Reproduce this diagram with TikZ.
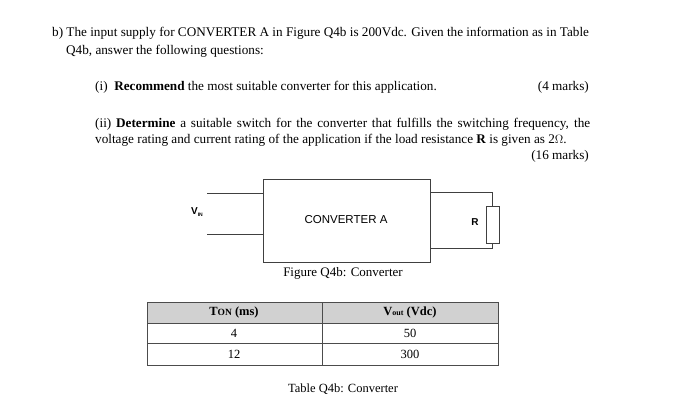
\documentclass[tikz,border=0pt]{standalone}
\usepackage{fontspec}
\setmainfont{Liberation Serif}
\setsansfont{Liberation Sans}
\begin{document}
\begin{tikzpicture}[x=1pt,y=-1pt,
  txt/.style={anchor=west,inner sep=0pt,font=\fontsize{13.2}{15}\selectfont},
  rtxt/.style={anchor=east,inner sep=0pt,font=\fontsize{13.2}{15}\selectfont},
  cell/.style={inner sep=0pt,font=\fontsize{12.5}{14}\selectfont},
  wire/.style={line width=1pt,draw=black!75}]
\useasboundingbox (0,0) rectangle (700,419);
\node[txt] (l1) at (52,33) {b) The input supply for CONVERTER A in Figure Q4b is 200Vdc. Given the information as in Table};
\node[txt] (l2) at (66,51) {Q4b, answer the following questions:};
\node[txt] (q1) at (95,87) {(i)\enspace\textbf{Recommend} the most suitable converter for this application.};
\node[rtxt] (m1) at (589,87) {(4 marks)};
\node[txt] (q2) at (95,124) {\makebox[495pt][s]{(ii) \textbf{Determine} a suitable switch for the converter that fulfills the switching frequency, the}};
\node[txt] (q2b) at (95,140) {voltage rating and current rating of the application if the load resistance \textbf{R} is given as 2$\Omega$.};
\node[rtxt] (m2) at (589,156) {(16 marks)};
% circuit
\draw[wire] (263,180) rectangle (430,262);
\node[font=\sffamily\fontsize{11.5}{13}\selectfont] (conv) at (346,220) {CONVERTER A};
\coordinate (i1) at (207,194); \coordinate (i1b) at (263,194);
\coordinate (i2) at (207,235); \coordinate (i2b) at (263,235);
\draw[wire] (i1) -- (i1b); \draw[wire] (i2) -- (i2b);
\node[font=\sffamily\bfseries\fontsize{10}{11}\selectfont] (vin) at (197,212) {V\raisebox{-0.5ex}{\fontsize{5}{6}\selectfont IN}};
\coordinate (o1) at (430,193); \coordinate (o2) at (430,249);
\draw[wire] (o1) -- (492.5,193) -- (492.5,207);
\draw[wire] (o2) -- (492.5,249) -- (492.5,244);
\draw[wire] (486,207) rectangle (499,244);
\node[font=\sffamily\bfseries\fontsize{10}{11}\selectfont] (r) at (475,222) {R};
\node[cell,font=\fontsize{13}{15}\selectfont] (cap1) at (343,273) {Figure Q4b: Converter};
% table
\fill[black!18] (147,302) rectangle (498,323);
\draw[line width=0.9pt,black!70] (147,302) rectangle (498,365) (322,302) -- (322,365) (147,323) -- (498,323) (147,343) -- (498,343);
\node[cell] (h1) at (234,312) {\textbf{T{\fontsize{9.5}{11}\selectfont ON} (ms)}};
\node[cell] (h2) at (410,312) {\textbf{V{\fontsize{8}{9}\selectfont out} (Vdc)}};
\node[cell] (a1) at (234,333) {4};
\node[cell] (a2) at (410,333) {50};
\node[cell] (b1) at (234,354) {12};
\node[cell] (b2) at (410,354) {300};
\node[cell] (cap2) at (343,389) {Table Q4b: Converter};
\end{tikzpicture}
\end{document}
